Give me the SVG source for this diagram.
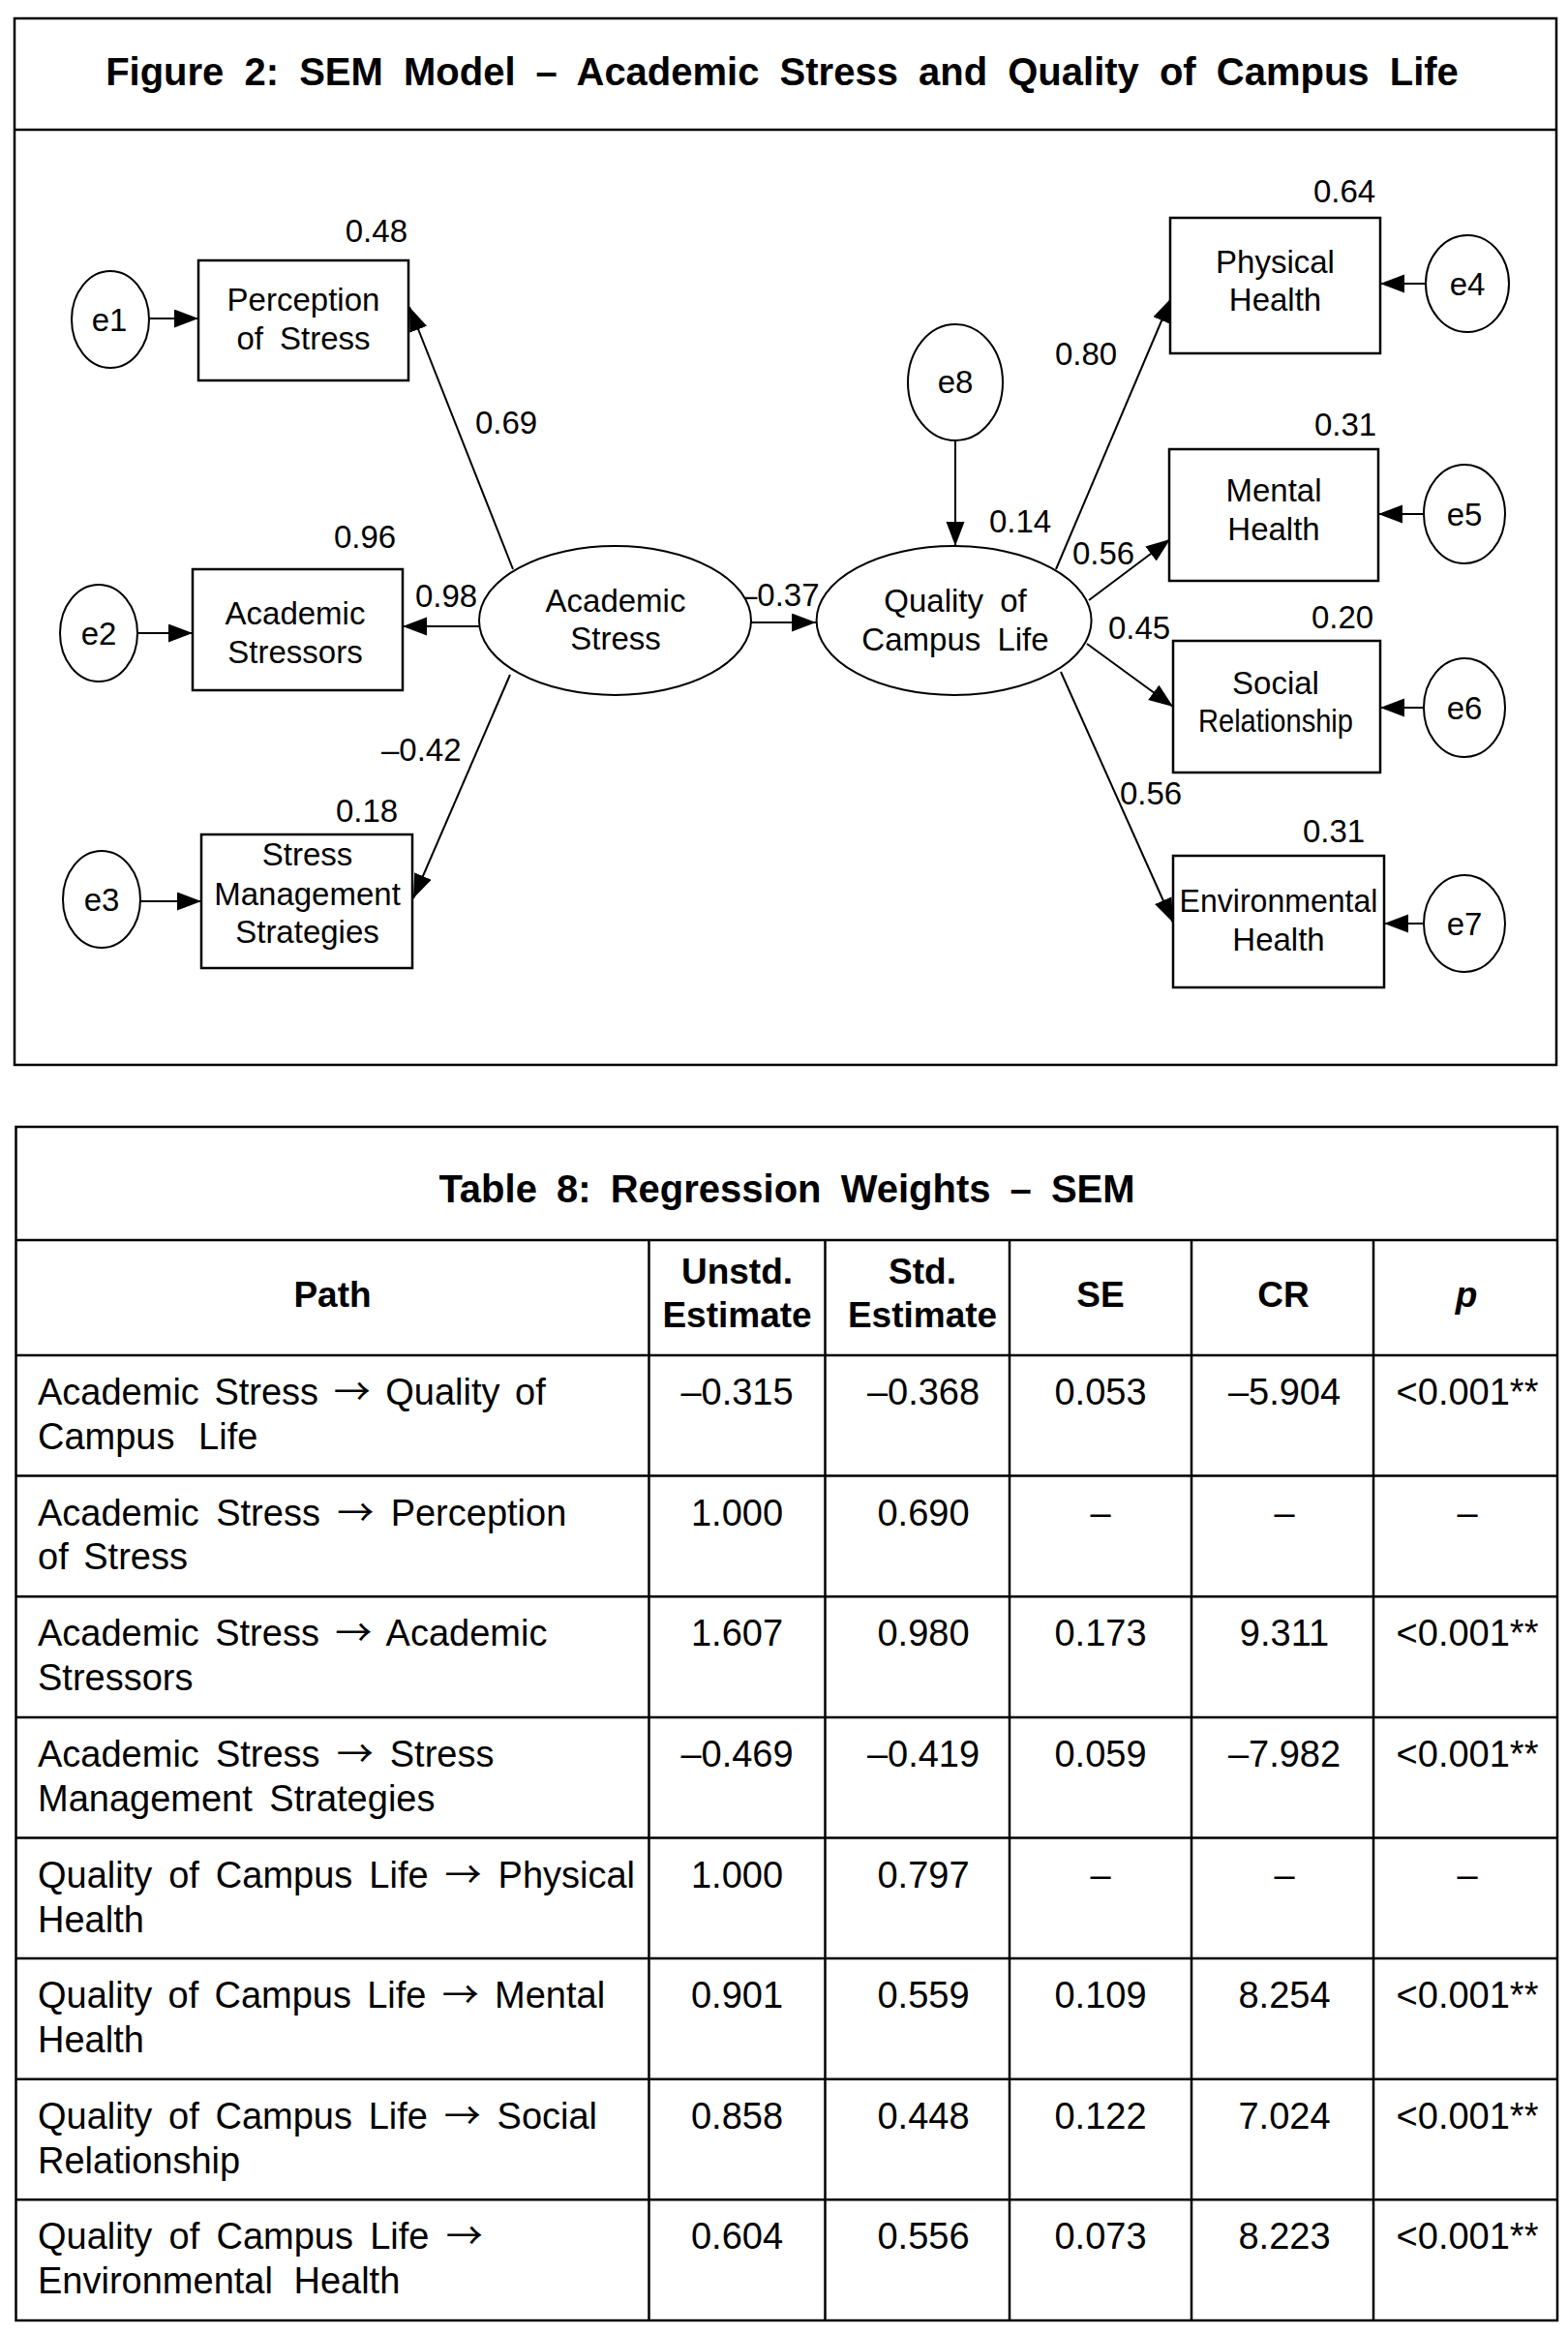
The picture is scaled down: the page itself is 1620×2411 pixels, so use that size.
<svg xmlns="http://www.w3.org/2000/svg" width="1620" height="2411" viewBox="0 0 1620 2411">
<style>
text{font-family:"Liberation Sans",Arial,sans-serif;fill:#000}
.ttl{font-size:40px;font-weight:bold;text-anchor:middle}
.lbl{font-size:33px}
.nd{font-size:33px;text-anchor:middle}
.box{fill:#fff;stroke:#000;stroke-width:2.5}
.ell{fill:#fff;stroke:#000;stroke-width:2}
.frame{fill:none;stroke:#000;stroke-width:2.5}
.con line{stroke:#000;stroke-width:2;marker-end:url(#ah)}
.grid line{stroke:#000;stroke-width:2.5}
.hd{font-size:37px;font-weight:bold;text-anchor:middle}
.cell{font-size:38px}
.ar{font-family:"Noto Sans CJK SC","Noto Sans CJK JP","DejaVu Sans",sans-serif}
.num{font-size:38px;text-anchor:middle}
</style>
<defs>
<marker id="ah" markerUnits="userSpaceOnUse" markerWidth="26" markerHeight="20" refX="25" refY="9.5" orient="auto">
<path d="M0,0 L25,9.5 L0,19 z" fill="#000"/>
</marker>
</defs>
<rect width="1620" height="2411" fill="#fff"/>

<!-- Figure frame -->
<g id="figure-frame">
<rect class="frame" x="15" y="19" width="1593" height="1081"/>
<line x1="15" y1="134" x2="1608" y2="134" stroke="#000" stroke-width="2.5"/>
<text class="ttl" x="808" y="88" word-spacing="10">Figure 2: SEM Model – Academic Stress and Quality of Campus Life</text>
</g>

<!-- Connectors -->
<g id="connectors" class="con">
<line x1="154" y1="329" x2="205" y2="329"/>
<line x1="530" y1="588" x2="423" y2="317"/>
<line x1="142" y1="654" x2="199" y2="654"/>
<line x1="495" y1="647" x2="416" y2="647"/>
<line x1="145" y1="931" x2="208" y2="931"/>
<line x1="527" y1="697" x2="427" y2="928"/>
<line x1="776" y1="643" x2="843" y2="643"/>
<line x1="987" y1="455" x2="987" y2="564"/>
<line x1="1091" y1="588" x2="1210" y2="308"/>
<line x1="1125" y1="620" x2="1209" y2="557"/>
<line x1="1123" y1="665" x2="1212" y2="730"/>
<line x1="1096" y1="694" x2="1212" y2="953"/>
<line x1="1472" y1="293" x2="1426" y2="293"/>
<line x1="1471" y1="531" x2="1424" y2="531"/>
<line x1="1470" y1="731" x2="1426" y2="731"/>
<line x1="1470" y1="954" x2="1430" y2="954"/>
</g>

<!-- Path labels -->
<g id="path-labels" class="lbl">
<text x="421" y="250" text-anchor="end">0.48</text>
<text x="491" y="448">0.69</text>
<text x="345" y="566">0.96</text>
<text x="429" y="627">0.98</text>
<text x="394" y="786">–0.42</text>
<text x="347" y="849">0.18</text>
<text x="764" y="626">–0.37</text>
<text x="1022" y="550">0.14</text>
<text x="1090" y="377">0.80</text>
<text x="1357" y="209">0.64</text>
<text x="1358" y="450">0.31</text>
<text x="1108" y="583">0.56</text>
<text x="1145" y="660">0.45</text>
<text x="1355" y="649">0.20</text>
<text x="1157" y="831">0.56</text>
<text x="1346" y="870">0.31</text>
</g>

<!-- Error terms -->
<g id="e1"><ellipse class="ell" cx="114" cy="330" rx="40" ry="50"/><text class="nd" x="113" y="342">e1</text></g>
<g id="e2"><ellipse class="ell" cx="102" cy="654" rx="40" ry="50"/><text class="nd" x="102" y="666">e2</text></g>
<g id="e3"><ellipse class="ell" cx="105" cy="929" rx="40" ry="50"/><text class="nd" x="105" y="941">e3</text></g>
<g id="e4"><ellipse class="ell" cx="1516" cy="293" rx="43" ry="50"/><text class="nd" x="1516" y="305">e4</text></g>
<g id="e5"><ellipse class="ell" cx="1513" cy="531" rx="42" ry="51"/><text class="nd" x="1513" y="543">e5</text></g>
<g id="e6"><ellipse class="ell" cx="1513" cy="731" rx="42" ry="51"/><text class="nd" x="1513" y="743">e6</text></g>
<g id="e7"><ellipse class="ell" cx="1513" cy="954" rx="42" ry="50"/><text class="nd" x="1513" y="966">e7</text></g>
<g id="e8"><ellipse class="ell" cx="987" cy="395" rx="49" ry="60"/><text class="nd" x="987" y="406">e8</text></g>

<!-- Latent variables -->
<g id="academic-stress"><ellipse class="ell" cx="635.5" cy="641" rx="140.5" ry="77"/>
<text class="nd" x="636" y="632">Academic</text><text class="nd" x="636" y="671">Stress</text></g>
<g id="quality-campus-life"><ellipse class="ell" cx="985.6" cy="641" rx="142" ry="77"/>
<text class="nd" x="987" y="632" word-spacing="8">Quality of</text><text class="nd" x="987" y="672" word-spacing="8">Campus Life</text></g>

<!-- Observed variables -->
<g id="perception-of-stress"><rect class="box" x="205" y="269" width="217" height="124"/>
<text class="nd" x="313.5" y="321">Perception</text><text class="nd" x="313.5" y="361" word-spacing="8">of Stress</text></g>
<g id="academic-stressors"><rect class="box" x="199" y="588" width="217" height="125"/>
<text class="nd" x="305" y="645">Academic</text><text class="nd" x="305" y="685">Stressors</text></g>
<g id="stress-management-strategies"><rect class="box" x="208" y="862" width="218" height="138"/>
<text class="nd" x="317.5" y="894">Stress</text><text class="nd" x="317.5" y="935">Management</text><text class="nd" x="317.5" y="974">Strategies</text></g>
<g id="physical-health"><rect class="box" x="1209" y="225" width="217" height="140"/>
<text class="nd" x="1317.5" y="282">Physical</text><text class="nd" x="1317.5" y="321">Health</text></g>
<g id="mental-health"><rect class="box" x="1208" y="464" width="216" height="136"/>
<text class="nd" x="1316" y="518">Mental</text><text class="nd" x="1316" y="558">Health</text></g>
<g id="social-relationship"><rect class="box" x="1212" y="662" width="214" height="136"/>
<text class="nd" x="1318" y="717">Social</text><text class="nd" x="1318" y="756" textLength="160" lengthAdjust="spacingAndGlyphs">Relationship</text></g>
<g id="environmental-health"><rect class="box" x="1212" y="884" width="218" height="136"/>
<text class="nd" x="1321" y="942" textLength="205" lengthAdjust="spacingAndGlyphs">Environmental</text><text class="nd" x="1321" y="982">Health</text></g>

<!-- Table -->
<g id="table" class="grid">
<rect class="frame" x="16.5" y="1164" width="1592.5" height="1233"/>
<line x1="16.5" y1="1281" x2="1609" y2="1281"/>
<line x1="16.5" y1="1400" x2="1609" y2="1400"/>
<line x1="16.5" y1="1524.6" x2="1609" y2="1524.6"/>
<line x1="16.5" y1="1649.2" x2="1609" y2="1649.2"/>
<line x1="16.5" y1="1773.9" x2="1609" y2="1773.9"/>
<line x1="16.5" y1="1898.5" x2="1609" y2="1898.5"/>
<line x1="16.5" y1="2023" x2="1609" y2="2023"/>
<line x1="16.5" y1="2147.7" x2="1609" y2="2147.7"/>
<line x1="16.5" y1="2272.3" x2="1609" y2="2272.3"/>
<line x1="670.5" y1="1281" x2="670.5" y2="2397"/>
<line x1="852.5" y1="1281" x2="852.5" y2="2397"/>
<line x1="1043" y1="1281" x2="1043" y2="2397"/>
<line x1="1231" y1="1281" x2="1231" y2="2397"/>
<line x1="1419" y1="1281" x2="1419" y2="2397"/>
<text class="ttl" x="813" y="1242" word-spacing="9">Table 8: Regression Weights – SEM</text>
<text class="hd" x="343.5" y="1350">Path</text>
<text class="hd" x="761.5" y="1326">Unstd.</text><text class="hd" x="761.5" y="1371">Estimate</text>
<text class="hd" x="953" y="1326">Std.</text><text class="hd" x="953" y="1371">Estimate</text>
<text class="hd" x="1137" y="1350">SE</text>
<text class="hd" x="1326" y="1350">CR</text>
<text class="hd" x="1515" y="1350" font-style="italic">p</text>
</g>

<g id="table-rows">
<g id="row1">
<text class="cell" x="39" y="1451" word-spacing="5">Academic Stress <tspan class="ar">→</tspan> Quality of</text>
<text class="cell" x="39" y="1497" word-spacing="14">Campus Life</text>
<text class="num" x="761.5" y="1451">–0.315</text><text class="num" x="954" y="1451">–0.368</text><text class="num" x="1137" y="1451">0.053</text><text class="num" x="1327" y="1451">–5.904</text><text class="num" x="1516" y="1451">&lt;0.001**</text>
</g>
<g id="row2">
<text class="cell" x="39" y="1576" word-spacing="6.8">Academic Stress <tspan class="ar">→</tspan> Perception</text>
<text class="cell" x="39" y="1621" word-spacing="5">of Stress</text>
<text class="num" x="761.5" y="1576">1.000</text><text class="num" x="954" y="1576">0.690</text><text class="num" x="1137" y="1576">–</text><text class="num" x="1327" y="1576">–</text><text class="num" x="1516" y="1576">–</text>
</g>
<g id="row3">
<text class="cell" x="39" y="1700" word-spacing="5.8">Academic Stress <tspan class="ar">→</tspan> Academic</text>
<text class="cell" x="39" y="1746">Stressors</text>
<text class="num" x="761.5" y="1700">1.607</text><text class="num" x="954" y="1700">0.980</text><text class="num" x="1137" y="1700">0.173</text><text class="num" x="1327" y="1700">9.311</text><text class="num" x="1516" y="1700">&lt;0.001**</text>
</g>
<g id="row4">
<text class="cell" x="39" y="1825" word-spacing="6.5">Academic Stress <tspan class="ar">→</tspan> Stress</text>
<text class="cell" x="39" y="1871" word-spacing="7">Management Strategies</text>
<text class="num" x="761.5" y="1825">–0.469</text><text class="num" x="954" y="1825">–0.419</text><text class="num" x="1137" y="1825">0.059</text><text class="num" x="1327" y="1825">–7.982</text><text class="num" x="1516" y="1825">&lt;0.001**</text>
</g>
<g id="row5">
<text class="cell" x="39" y="1950" word-spacing="6.4">Quality of Campus Life <tspan class="ar">→</tspan> Physical</text>
<text class="cell" x="39" y="1996">Health</text>
<text class="num" x="761.5" y="1950">1.000</text><text class="num" x="954" y="1950">0.797</text><text class="num" x="1137" y="1950">–</text><text class="num" x="1327" y="1950">–</text><text class="num" x="1516" y="1950">–</text>
</g>
<g id="row6">
<text class="cell" x="39" y="2074" word-spacing="5.7">Quality of Campus Life <tspan class="ar">→</tspan> Mental</text>
<text class="cell" x="39" y="2120">Health</text>
<text class="num" x="761.5" y="2074">0.901</text><text class="num" x="954" y="2074">0.559</text><text class="num" x="1137" y="2074">0.109</text><text class="num" x="1327" y="2074">8.254</text><text class="num" x="1516" y="2074">&lt;0.001**</text>
</g>
<g id="row7">
<text class="cell" x="39" y="2199" word-spacing="6.2">Quality of Campus Life <tspan class="ar">→</tspan> Social</text>
<text class="cell" x="39" y="2245">Relationship</text>
<text class="num" x="761.5" y="2199">0.858</text><text class="num" x="954" y="2199">0.448</text><text class="num" x="1137" y="2199">0.122</text><text class="num" x="1327" y="2199">7.024</text><text class="num" x="1516" y="2199">&lt;0.001**</text>
</g>
<g id="row8">
<text class="cell" x="39" y="2323" word-spacing="6.7">Quality of Campus Life <tspan class="ar">→</tspan></text>
<text class="cell" x="39" y="2369" word-spacing="11">Environmental Health</text>
<text class="num" x="761.5" y="2323">0.604</text><text class="num" x="954" y="2323">0.556</text><text class="num" x="1137" y="2323">0.073</text><text class="num" x="1327" y="2323">8.223</text><text class="num" x="1516" y="2323">&lt;0.001**</text>
</g>
</g>
</svg>
